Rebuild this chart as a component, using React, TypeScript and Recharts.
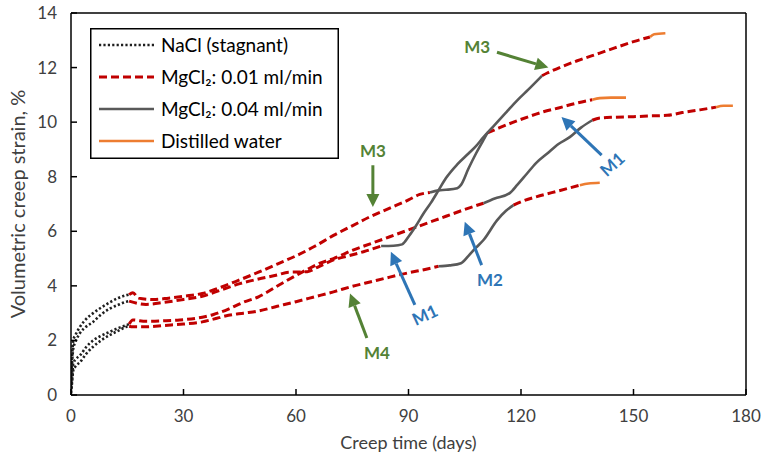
import React from 'react';
import { LineChart, Line, XAxis, YAxis, ReferenceLine, ReferenceDot, Legend } from 'recharts';

type Pt = [number, number]; // [creep time in days, volumetric creep strain in %]

// ---- Specimen 1 (highest final strain) ----
const s1NaCl: Pt[] = [[0, 0.2], [0.3, 1.2], [0.6, 1.7], [1.2, 1.95], [2.4, 2.27], [4, 2.5], [5.9, 2.68], [8, 2.95], [10.4, 3.17], [12.5, 3.3], [14.8, 3.42], [15.5, 3.44]];
const s1Mg001a: Pt[] = [[15.5, 3.44], [20, 3.32], [25, 3.4], [30, 3.5], [35, 3.62], [40, 3.85], [45, 4.08], [50, 4.25], [55, 4.4], [58, 4.5], [63, 4.52], [66, 4.7], [70, 4.95], [74, 5.1], [78, 5.25], [82.7, 5.46]];
const s1Mg004: Pt[] = [[82.7, 5.46], [86, 5.47], [88.3, 5.52], [90, 5.8], [92, 6.2], [94, 6.65], [96, 7.05], [98, 7.5], [100, 7.95], [103, 8.45], [106, 8.85], [108, 9.12], [110, 9.45], [113, 9.9], [116, 10.35], [119, 10.8], [122, 11.2], [125.6, 11.7]];
const s1Mg001b: Pt[] = [[125.6, 11.7], [127, 11.8], [130, 11.98], [135, 12.25], [141, 12.53], [145, 12.72], [150, 12.95], [154.4, 13.12]];
const s1Water: Pt[] = [[154.4, 13.12], [155.5, 13.22], [158.5, 13.26]];

// ---- Specimen 2 ----
const s2NaCl: Pt[] = [[0, 0.3], [0.3, 1.4], [0.6, 2.0], [1.2, 2.2], [2.4, 2.5], [4, 2.78], [5.9, 3.0], [8, 3.2], [10.4, 3.4], [12.5, 3.55], [14.8, 3.66], [15.5, 3.68]];
const s2Mg001a: Pt[] = [[15.5, 3.68], [16.5, 3.75], [18, 3.55], [22, 3.5], [26, 3.55], [30, 3.62], [35, 3.72], [40, 3.95], [45, 4.22], [50, 4.5], [55, 4.8], [60, 5.1], [65, 5.45], [70, 5.85], [75, 6.2], [80, 6.55], [85, 6.85], [90, 7.15], [93, 7.35], [95.7, 7.42]];
const s2Mg004: Pt[] = [[95.7, 7.42], [98, 7.5], [100, 7.52], [103, 7.58], [104, 7.7], [106, 8.3], [108, 8.85], [110, 9.35], [111, 9.6]];
const s2Mg001b: Pt[] = [[111, 9.6], [114, 9.78], [118, 10.0], [122, 10.2], [126, 10.38], [130, 10.52], [135, 10.7], [139, 10.82]];
const s2Water: Pt[] = [[139, 10.82], [141, 10.88], [144, 10.9], [148, 10.9]];

// ---- Specimen 3 ----
const s3NaCl: Pt[] = [[0, 0.1], [0.3, 0.6], [0.6, 1.16], [1.2, 1.3], [2.4, 1.45], [4, 1.75], [5.9, 2.0], [8, 2.17], [10.4, 2.32], [12.5, 2.45], [14.8, 2.56], [15.5, 2.6]];
const s3Mg001a: Pt[] = [[15.5, 2.6], [16.5, 2.75], [20, 2.7], [25, 2.72], [29, 2.75], [35, 2.85], [38, 2.95], [42, 3.15], [46, 3.4], [50, 3.6], [55.7, 4.05], [60, 4.38], [63, 4.6], [66.4, 4.83], [70, 5.0], [75, 5.3], [80, 5.55], [85, 5.8], [90, 6.05], [95, 6.3], [100, 6.55], [105, 6.8], [110, 7.03]];
const s3Mg004: Pt[] = [[110, 7.03], [113, 7.2], [117, 7.4], [119, 7.7], [121.5, 8.1], [124, 8.5], [127, 8.85], [130, 9.2], [133, 9.45], [136, 9.8], [139, 10.07]];
const s3Mg001b: Pt[] = [[139, 10.07], [141, 10.15], [145, 10.18], [150, 10.2], [155, 10.23], [159, 10.25], [163, 10.35], [167.7, 10.45], [172, 10.55]];
const s3Water: Pt[] = [[172, 10.55], [174, 10.6], [176.5, 10.6]];

// ---- Specimen 4 (lowest final strain) ----
const s4NaCl: Pt[] = [[0, 0.05], [0.3, 0.5], [0.6, 0.9], [1.2, 1.05], [2.4, 1.2], [4, 1.5], [5.9, 1.77], [8, 2.0], [10.4, 2.2], [12.5, 2.35], [14.8, 2.5], [15.5, 2.52]];
const s4Mg001a: Pt[] = [[15.5, 2.52], [16.5, 2.5], [20, 2.5], [25, 2.55], [30, 2.6], [35, 2.68], [38, 2.78], [42, 2.92], [46, 3.0], [50, 3.08], [55, 3.25], [60, 3.42], [65, 3.6], [70, 3.78], [75, 3.98], [80, 4.15], [85, 4.32], [90, 4.48], [95, 4.62], [98, 4.72]];
const s4Mg004: Pt[] = [[98, 4.72], [101, 4.75], [104, 4.83], [106, 5.1], [108, 5.4], [110, 5.68], [113.6, 6.4], [116, 6.75], [118, 6.96]];
const s4Mg001b: Pt[] = [[118, 6.96], [120, 7.08], [125, 7.3], [130, 7.48], [135.7, 7.69]];
const s4Water: Pt[] = [[135.7, 7.69], [138, 7.75], [141, 7.78]];

const xTicks = [0, 30, 60, 90, 120, 150, 180];
const yTicks = [0, 2, 4, 6, 8, 10, 12, 14];

const legendLabels = ['NaCl (stagnant)', 'MgCl₂: 0.01 ml/min', 'MgCl₂: 0.04 ml/min', 'Distilled water'];

type Ann = { text: string; color: string; from: Pt; to: Pt; at: Pt; angle: number };
const GREEN = '#548235';
const BLUE = '#2E75B6';
const annotations: Ann[] = [
  { text: 'M3', color: GREEN, from: [113.6, 12.56], to: [127.3, 12.0], at: [108.3, 12.75], angle: 0 },
  { text: 'M3', color: GREEN, from: [80.5, 8.42], to: [80.5, 6.89], at: [80.5, 8.95], angle: 0 },
  { text: 'M1', color: BLUE, from: [91.7, 3.3], to: [85.3, 5.25], at: [94.4, 2.93], angle: -25 },
  { text: 'M2', color: BLUE, from: [109.5, 4.76], to: [105.0, 6.35], at: [111.7, 4.2], angle: 0 },
  { text: 'M1', color: BLUE, from: [141.5, 8.79], to: [130.8, 10.19], at: [144.4, 8.45], angle: -42 },
  { text: 'M4', color: GREEN, from: [78.9, 2.09], to: [74.4, 3.72], at: [81.6, 1.54], angle: 0 },
];

const FONT = 'Lato, "Open Sans", sans-serif';
const TEXT = '#404040';

const STAGE: Record<string, any> = {
  nacl: { stroke: '#1f1f1f', strokeWidth: 2.6, strokeDasharray: '2.2 2.2' },
  mg001: { stroke: '#C00000', strokeWidth: 3, strokeDasharray: '8 4' },
  mg004: { stroke: '#595959', strokeWidth: 2.6 },
  water: { stroke: '#ED7D31', strokeWidth: 2.6 },
};
const stageOrder = ['nacl', 'mg001', 'mg004', 'water'];

const segments: { id: string; stage: string; pts: Pt[] }[] = [
  { id: 's1-nacl', stage: 'nacl', pts: s1NaCl },
  { id: 's2-nacl', stage: 'nacl', pts: s2NaCl },
  { id: 's3-nacl', stage: 'nacl', pts: s3NaCl },
  { id: 's4-nacl', stage: 'nacl', pts: s4NaCl },
  { id: 's1-mg1a', stage: 'mg001', pts: s1Mg001a },
  { id: 's2-mg1a', stage: 'mg001', pts: s2Mg001a },
  { id: 's3-mg1a', stage: 'mg001', pts: s3Mg001a },
  { id: 's4-mg1a', stage: 'mg001', pts: s4Mg001a },
  { id: 's1-mg1b', stage: 'mg001', pts: s1Mg001b },
  { id: 's2-mg1b', stage: 'mg001', pts: s2Mg001b },
  { id: 's3-mg1b', stage: 'mg001', pts: s3Mg001b },
  { id: 's4-mg1b', stage: 'mg001', pts: s4Mg001b },
  { id: 's1-mg4', stage: 'mg004', pts: s1Mg004 },
  { id: 's2-mg4', stage: 'mg004', pts: s2Mg004 },
  { id: 's3-mg4', stage: 'mg004', pts: s3Mg004 },
  { id: 's4-mg4', stage: 'mg004', pts: s4Mg004 },
  { id: 's1-w', stage: 'water', pts: s1Water },
  { id: 's2-w', stage: 'water', pts: s2Water },
  { id: 's3-w', stage: 'water', pts: s3Water },
  { id: 's4-w', stage: 'water', pts: s4Water },
];

const toRows = (pts: Pt[]) => pts.map(([day, strain]) => ({ day, strain }));

const XTick = (p: any) => (
  <g>
    <line x1={p.x} y1={p.y} x2={p.x} y2={p.y - 6} stroke="#000" strokeWidth={1.5} />
    <text x={p.x} y={p.y + 27} textAnchor="middle" fontFamily={FONT} fontSize={17} fill={TEXT}>
      {p.payload.value}
    </text>
  </g>
);

const YTick = (p: any) => (
  <g>
    <line x1={p.x} y1={p.y} x2={p.x + 6} y2={p.y} stroke="#000" strokeWidth={1.5} />
    <text x={p.x - 14} y={p.y + 6} textAnchor="end" fontFamily={FONT} fontSize={17} fill={TEXT}>
      {p.payload.value}
    </text>
  </g>
);

const arrowShape = (a: Ann) => (props: any) => {
  const { x1, y1, x2, y2 } = props;
  const dx = x2 - x1;
  const dy = y2 - y1;
  const len = Math.hypot(dx, dy) || 1;
  const ux = dx / len;
  const uy = dy / len;
  const head = 13;
  const half = 6.5;
  const bx = x2 - ux * head;
  const by = y2 - uy * head;
  const pts = `${x2},${y2} ${bx - uy * half},${by + ux * half} ${bx + uy * half},${by - ux * half}`;
  return (
    <g>
      <line x1={x1} y1={y1} x2={bx} y2={by} stroke={a.color} strokeWidth={3} />
      <polygon points={pts} fill={a.color} />
    </g>
  );
};

const labelShape = (a: Ann) => (props: any) => (
  <text
    x={props.cx}
    y={props.cy}
    dy={6}
    textAnchor="middle"
    fontFamily={FONT}
    fontSize={17}
    fontWeight={700}
    fill={a.color}
    transform={a.angle ? `rotate(${a.angle} ${props.cx} ${props.cy})` : undefined}
  >
    {a.text}
  </text>
);

const LegendBox = () => (
  <svg width={249} height={131} style={{ display: 'block' }}>
    <rect x={0.75} y={0.75} width={247.5} height={129.5} fill="#fff" stroke="#000" strokeWidth={1.5} />
    {stageOrder.map((st, i) => {
      const y = 17 + i * 32;
      return (
        <g key={st}>
          <line x1={9} y1={y} x2={64} y2={y} {...STAGE[st]} />
          <text x={71} y={y + 6.5} fontFamily={FONT} fontSize={19} fill="#000">
            {legendLabels[i]}
          </text>
        </g>
      );
    })}
  </svg>
);

export default function App() {
  return (
    <div style={{ position: 'absolute', left: 0, top: 0, width: 766, height: 463, background: '#fff' }}>
      <LineChart width={766} height={463} margin={{ top: 13, right: 20, bottom: 0, left: 0 }}>
        <XAxis
          type="number"
          dataKey="day"
          domain={[0, 180]}
          ticks={xTicks}
          interval={0}
          allowDataOverflow
          height={68}
          tickSize={0}
          tickMargin={0}
          tickLine={false}
          tick={<XTick />}
          axisLine={{ stroke: '#000', strokeWidth: 1.5 }}
          label={{ value: 'Creep time (days)', position: 'insideBottom', offset: 14, fontFamily: FONT, fontSize: 18, fill: TEXT }}
        />
        <YAxis
          type="number"
          dataKey="strain"
          domain={[0, 14]}
          ticks={yTicks}
          interval={0}
          allowDataOverflow
          width={71}
          tickSize={0}
          tickMargin={0}
          tickLine={false}
          tick={<YTick />}
          axisLine={{ stroke: '#000', strokeWidth: 1.5 }}
          label={{ value: 'Volumetric creep strain, %', angle: -90, position: 'insideLeft', offset: 18, fontFamily: FONT, fontSize: 20, fill: TEXT, style: { textAnchor: 'middle' } }}
        />
        <ReferenceLine x={180} stroke="#000" strokeWidth={1.5} />
        <ReferenceLine y={14} stroke="#000" strokeWidth={1.5} />
        {segments.map((s) => (
          <Line
            key={s.id}
            data={toRows(s.pts)}
            dataKey="strain"
            type="monotone"
            dot={false}
            activeDot={false}
            isAnimationActive={false}
            legendType="none"
            {...STAGE[s.stage]}
          />
        ))}
        {annotations.map((a, i) => (
          <ReferenceLine
            key={`arrow-${i}`}
            segment={[{ x: a.from[0], y: a.from[1] }, { x: a.to[0], y: a.to[1] }]}
            shape={arrowShape(a)}
          />
        ))}
        {annotations.map((a, i) => (
          <ReferenceDot key={`lbl-${i}`} x={a.at[0]} y={a.at[1]} r={0} shape={labelShape(a)} />
        ))}
        <Legend
          layout="vertical"
          align="center"
          verticalAlign="middle"
          content={<LegendBox />}
          wrapperStyle={{ left: 90, top: 28, width: 249, height: 131 }}
        />
      </LineChart>
    </div>
  );
}
